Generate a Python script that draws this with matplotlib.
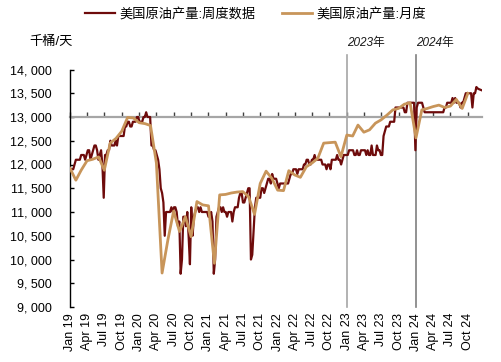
import matplotlib
matplotlib.use('Agg')
import matplotlib.pyplot as plt
import matplotlib.dates as mdates
import pandas as pd

plt.rcParams['font.family'] = ['Liberation Sans', 'Noto Sans CJK SC']

# ---------------- data (thousand barrels / day) ----------------
weekly_2019 = [11700, 11900, 11900, 11900, 11900, 11900, 12000, 12100, 12100, 12100,
               12100, 12200, 12200, 12200, 12100, 12200, 12300, 12300, 12100, 12200,
               12300, 12400, 12400, 12300, 12100, 12200, 12300, 12000, 11300, 12200,
               12200, 12300, 12300, 12500, 12400, 12400, 12400, 12500, 12400, 12600,
               12600, 12600, 12600, 12600, 12800, 12800, 12900, 12900, 12800, 12800,
               12900, 12900]
weekly_2020 = [12900, 13000, 13000, 12900, 12900, 12900, 13000, 13000, 13100, 13000,
               13000, 13000, 12400, 12400, 12300, 12300, 12200, 12100, 11900, 11500,
               11400, 11200, 10500, 11000, 11000, 11000, 11000, 11100, 11000, 11100,
               11100, 11000, 10700, 10800, 9700, 10000, 10900, 10900, 10700, 11000,
               10500, 9900, 11100, 10500, 10900, 11000, 11100, 11100, 11000, 11100,
               11000, 11000]
weekly_2021 = [11000, 11000, 11000, 10900, 10900, 11000, 10800, 9700, 10000, 10900,
               11000, 11100, 11100, 11000, 11100, 11000, 11000, 10900, 11000, 11000,
               11000, 10800, 11000, 11100, 11100, 11100, 11300, 11400, 11400, 11200,
               11200, 11300, 11400, 11500, 11500, 10000, 10100, 10600, 11100, 11300,
               11300, 11300, 11300, 11500, 11500, 11400, 11500, 11600, 11700, 11700,
               11600, 11800, 11700]
weekly_2022 = [11700, 11700, 11600, 11500, 11600, 11600, 11600, 11600, 11600, 11600,
               11600, 11700, 11800, 11800, 11900, 11900, 11900, 11800, 11900, 11900,
               11900, 11900, 12000, 12000, 12100, 12100, 12000, 12000, 12100, 12100,
               12200, 12100, 12100, 12100, 12100, 12100, 12000, 12000, 12000, 11900,
               12000, 12000, 11900, 12100, 12100, 12100, 12100, 12200, 12100, 12100,
               12000, 12100]
weekly_2023 = [12200, 12200, 12200, 12200, 12300, 12300, 12300, 12300, 12200, 12200,
               12300, 12200, 12200, 12300, 12300, 12300, 12300, 12200, 12300, 12200,
               12200, 12400, 12200, 12200, 12200, 12400, 12300, 12300, 12200, 12200,
               12600, 12700, 12800, 12800, 12800, 12900, 12900, 12900, 12900, 13200,
               13200, 13200, 13200, 13200, 13200, 13200, 13100, 13100, 13300, 13300,
               13300, 13300]
weekly_2024 = [13300, 13300, 12300, 13200, 13300, 13300, 13300, 13300, 13200, 13100,
               13100, 13100, 13100, 13100, 13100, 13100, 13100, 13100, 13100, 13100,
               13100, 13100, 13100, 13100, 13200, 13200, 13300, 13300, 13300, 13300,
               13400, 13300, 13400, 13300, 13300, 13300, 13200, 13300, 13300, 13400,
               13500, 13500, 13500, 13500, 13500, 13200, 13500, 13500, 13631, 13600,
               13585, 13573, 13563]
weekly = weekly_2019 + weekly_2020 + weekly_2021 + weekly_2022 + weekly_2023 + weekly_2024

monthly = [11920, 11670, 11880, 12080, 12110, 12160, 11880, 12450, 12550, 12700, 12990, 12980,
           12880, 12860, 12820, 12030, 9715, 10420, 11020, 10590, 10900, 10480, 11220, 11150,
           11130, 9920, 11360, 11370, 11400, 11420, 11430, 11320, 10950, 11600, 11860, 11710,
           11460, 11450, 11870, 11780, 11730, 11950, 12030, 12130, 12450, 12460, 12470, 12165,
           12620, 12600, 12830, 12680, 12730, 12870, 12940, 13040, 13150, 13180, 13270, 13300,
           12560, 13150, 13180, 13220, 13250, 13200, 13230, 13370, 13180, 13500]

weekly_dates = pd.date_range('2018-12-14', periods=len(weekly), freq='7D')
monthly_dates = pd.date_range('2019-01-01', periods=len(monthly), freq='MS')

tick_dates = pd.date_range('2019-01-01', '2024-10-01', freq='QS')
tick_labels = [d.strftime('%b %y') for d in tick_dates]
y_ticks = list(range(9000, 14001, 500))
year_marks = ['2023-01-01', '2024-01-01']
year_labels = ['2023年', '2024年']
year_colors = ['#A6A6A6', '#7F7F7F']

# ---------------- figure ----------------
fig = plt.figure(figsize=(5.01, 3.62), dpi=100)
ax = fig.add_axes([70 / 501, 1 - 307 / 362, 411.7 / 501, 237.5 / 362])

wx = mdates.date2num(weekly_dates)
mx = mdates.date2num(monthly_dates)
ax.plot(wx, weekly, color='#6E0B0B', lw=1.6, label='美国原油产量:周度数据', zorder=3)
ax.plot(mx, monthly, color='#C8955A', lw=2.0, label='美国原油产量:月度', zorder=4)

ax.set_xlim(mdates.date2num(pd.Timestamp('2019-01-01')), wx[-1])
ax.set_ylim(9000, 14000)

# spines
for s in ['top', 'right']:
    ax.spines[s].set_visible(False)
ax.spines['left'].set_color('black')
ax.spines['left'].set_linewidth(1.0)
ax.spines['bottom'].set_position(('data', 13000))
ax.spines['bottom'].set_color('#A6A6A6')
ax.spines['bottom'].set_linewidth(1.6)
ax.spines['bottom'].set_zorder(2)

ax.set_yticks(y_ticks)
ax.set_yticklabels([f'{v:,}'.replace(',', ', ') for v in y_ticks])
ax.tick_params(axis='y', direction='in', length=3, width=1, color='black',
               labelsize=9, pad=13)

ax.set_xticks(mdates.date2num(tick_dates))
ax.set_xticklabels(tick_labels, rotation=90)
ax.tick_params(axis='x', direction='in', length=3.5, width=1, color='#404040',
               labelsize=9, pad=141)

# year marker lines
for d, lab, c in zip(year_marks, year_labels, year_colors):
    xd = mdates.date2num(pd.Timestamp(d))
    ax.axvline(xd, ymin=0, ymax=1.061, color=c, lw=1.2, clip_on=False, zorder=2)
    ax.text(xd, 1.111, lab, transform=ax.get_xaxis_transform(), ha='left', va='center',
            fontsize=8.5, style='italic', color='#1a1a1a')

fig.text(29 / 501, 1 - 41.5 / 362, '千桶/天', fontsize=9.5, ha='left', va='center')

fig.legend(loc='upper center', bbox_to_anchor=(0.51, 1.012), ncol=2, frameon=False,
           fontsize=9.5, handlelength=2.3, handletextpad=0.3, columnspacing=2.0)

fig.savefig('out.png', dpi=100)
